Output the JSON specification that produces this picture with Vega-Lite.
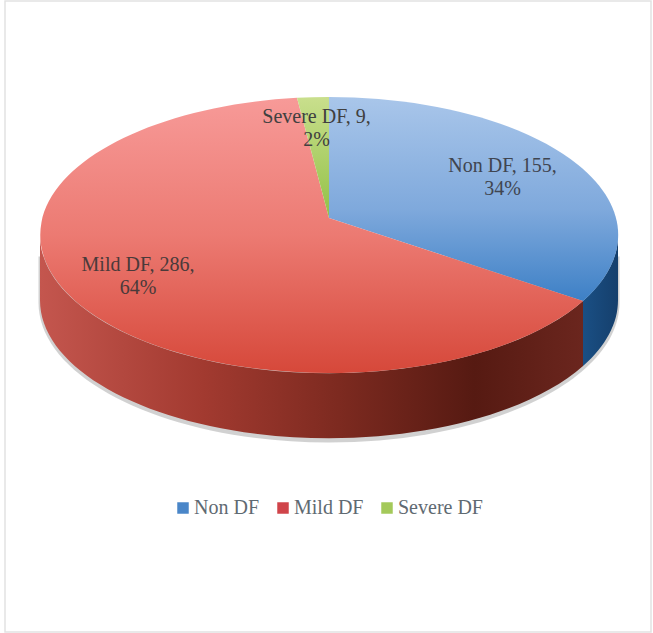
{"$schema":"https://vega.github.io/schema/vega-lite/v6.json","width":653,"height":633,"autosize":"none","padding":0,"background":"white","config":{"view":{"stroke":null}},
"data":{"values":[{"category":"Non DF","count":155,"share":34,"label":"Non DF, 155,\n34%"},{"category":"Mild DF","count":286,"share":64,"label":"Mild DF, 286,\n64%"},{"category":"Severe DF","count":9,"share":2,"label":"Severe DF, 9,\n2%"}]},
"layer":[
{"transform":[{"filter":"datum.category==='Mild DF'"}],"mark":{"type":"point","shape":"M-321.5,-315.5 L324.5,-315.5 L324.5,315.5 L-321.5,315.5 Z","size":4,"filled":false,"stroke":"#e2e2e2","strokeWidth":1.5,"opacity":1}},
{"transform":[{"filter":"datum.category==='Mild DF'"}],"mark":{"type":"point","shape":"M-288,-60 L-288,-14 A290.5,140 0 0 0 293,-14 L293,-60 Z","size":4,"filled":true,"fill":"#9a9a9a","stroke":null,"opacity":0.45}},
{"transform":[{"filter":"datum.category==='Mild DF'"}],"mark":{"type":"point","shape":"M-286.5,-81.5 A289,138 0 0 0 256.5,-15.5 L256.5,49.5 A289,138 0 0 1 -286.5,-16.5 Z","size":4,"filled":true,"stroke":null,"opacity":1,"fill":{"gradient":"linear","x1":0,"y1":0,"x2":1,"y2":0,"stops":[{"offset":0,"color":"#c4564e"},{"offset":0.3,"color":"#a23a30"},{"offset":0.55,"color":"#7d2a20"},{"offset":0.8,"color":"#561a12"},{"offset":1,"color":"#6b261e"}]}}},
{"transform":[{"filter":"datum.category==='Non DF'"}],"mark":{"type":"point","shape":"M256.5,-15.5 A289,138 0 0 0 291.5,-81.5 L291.5,-16.5 A289,138 0 0 1 256.5,49.5 Z","size":4,"filled":true,"stroke":null,"opacity":1,"fill":{"gradient":"linear","x1":0,"y1":0,"x2":1,"y2":0,"stops":[{"offset":0,"color":"#1a4f84"},{"offset":1,"color":"#153f6c"}]}}},
{"mark":{"type":"point","shape":"square","size":0,"filled":true,"stroke":null,"opacity":1},"encoding":{
"color":{"field":"category","type":"nominal","sort":["Non DF","Mild DF","Severe DF"],"scale":{"domain":["Non DF","Mild DF","Severe DF"],"range":["#4a86c8","#d0444a","#a4c95a"]},
"legend":{"title":null,"orient":"none","legendX":173,"legendY":498,"direction":"horizontal","columns":3,"symbolType":"square","symbolSize":132,"symbolStrokeWidth":0,"labelFont":"Liberation Serif","labelFontSize":20,"labelColor":"#5f6a72","labelOffset":1,"columnPadding":13,"symbolOpacity":1}}}},
{"transform":[{"filter":"datum.category==='Non DF'"}],"mark":{"type":"point","shape":"M2.5,-98.5 L2.5,-219.5 A289,138 0 0 1 256.5,-15.5 Z","size":4,"filled":true,"stroke":null,"opacity":1,"fill":{"gradient":"linear","x1":0,"y1":0,"x2":0,"y2":1,"stops":[{"offset":0,"color":"#a9c6ea"},{"offset":0.55,"color":"#7fa9dc"},{"offset":1,"color":"#3d80c6"}]}}},
{"transform":[{"filter":"datum.category==='Mild DF'"}],"mark":{"type":"point","shape":"M2.5,-98.5 L256.5,-15.5 A289,138 0 1 1 -29.5,-218.7 Z","size":4,"filled":true,"stroke":null,"opacity":1,"fill":{"gradient":"linear","x1":0,"y1":0,"x2":0,"y2":1,"stops":[{"offset":0,"color":"#f79a98"},{"offset":0.5,"color":"#ec7a72"},{"offset":1,"color":"#d6483a"}]}}},
{"transform":[{"filter":"datum.category==='Severe DF'"}],"mark":{"type":"point","shape":"M2.5,-98.5 L-29.5,-218.7 A289,138 0 0 1 2.5,-219.5 Z","size":4,"filled":true,"stroke":null,"opacity":1,"fill":{"gradient":"linear","x1":0,"y1":0,"x2":0,"y2":1,"stops":[{"offset":0,"color":"#c9df8d"},{"offset":1,"color":"#92c146"}]}}},
{"transform":[{"filter":"datum.category==='Non DF'"}],"mark":{"type":"text","font":"Liberation Serif","fontSize":20,"color":"#404550","lineBreak":"\n","lineHeight":23,"align":"center","baseline":"middle","dx":176,"dy":-151},"encoding":{"text":{"field":"label"}}},
{"transform":[{"filter":"datum.category==='Mild DF'"}],"mark":{"type":"text","font":"Liberation Serif","fontSize":20,"color":"#4a3a3a","lineBreak":"\n","lineHeight":23,"align":"center","baseline":"middle","dx":-188.5,"dy":-52},"encoding":{"text":{"field":"label"}}},
{"transform":[{"filter":"datum.category==='Severe DF'"}],"mark":{"type":"text","font":"Liberation Serif","fontSize":20,"color":"#404040","lineBreak":"\n","lineHeight":23,"align":"center","baseline":"middle","dx":-10,"dy":-200},"encoding":{"text":{"field":"label"}}}
]}
